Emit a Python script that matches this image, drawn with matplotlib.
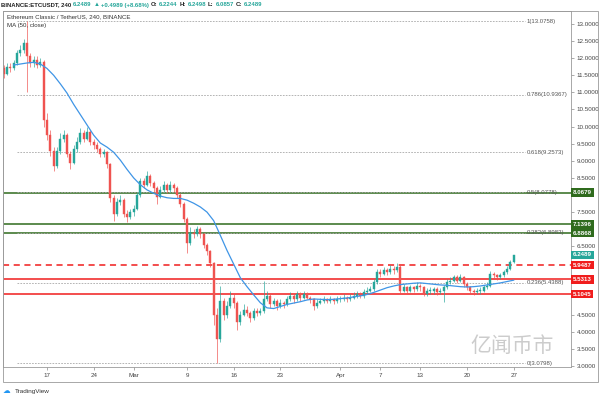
import numpy as np
import pandas as pd
import matplotlib
matplotlib.use('Agg')
import matplotlib.pyplot as plt
import matplotlib.dates as mdates
import matplotlib.transforms as mtransforms
from matplotlib.patches import Rectangle

plt.rcParams['font.family'] = ['Liberation Sans', 'DejaVu Sans', 'Noto Sans CJK SC']

# ---------------- data ----------------
candle_start = '2020-02-10 12:00'
candle_freq = '12h'

opens = [11.70, 11.55, 11.75, 11.70, 11.85, 12.15, 12.25, 12.45, 12.05, 11.85,
         11.95, 11.80, 11.90, 10.20, 9.75, 9.30, 8.85, 9.30, 9.65, 9.75,
         9.20, 8.95, 9.35, 9.55, 9.80, 9.65, 9.85, 9.55, 9.45, 9.35,
         9.20, 9.25, 8.90, 7.90, 7.45, 7.80, 7.85, 7.45, 7.35, 7.50,
         7.60, 8.00, 8.40, 8.30, 8.55, 8.35, 8.20, 7.95, 8.15, 8.30,
         8.15, 8.30, 8.20, 8.00, 7.75, 7.30, 6.60, 6.90, 6.85, 7.00,
         6.85, 6.55, 6.35, 6.00, 4.50, 3.80, 4.90, 4.50, 4.75, 5.00,
         4.85, 4.30, 4.50, 4.65, 4.55, 4.40, 4.60, 4.55, 4.60, 4.95,
         5.05, 4.80, 4.90, 4.75, 4.85, 4.80, 4.95, 5.05, 4.95, 5.10,
         5.00, 5.10, 5.00, 4.95, 4.75, 4.85, 4.90, 4.95, 4.90, 4.95,
         4.90, 4.95, 4.95, 5.00, 4.95, 5.00, 5.05, 5.10, 5.05, 5.15,
         5.20, 5.25, 5.45, 5.75, 5.70, 5.80, 5.75, 5.85, 5.80, 5.90,
         5.20, 5.30, 5.20, 5.30, 5.25, 5.35, 5.30, 5.10, 5.20, 5.20,
         5.25, 5.15, 5.20, 5.30, 5.45, 5.50, 5.60, 5.50, 5.60, 5.40,
         5.30, 5.20, 5.15, 5.20, 5.20, 5.30, 5.35, 5.70, 5.65, 5.60,
         5.65, 5.75, 5.85, 6.05]

highs = [11.80, 11.85, 11.85, 11.95, 12.25, 12.40, 12.55, 13.0758, 12.15, 12.05,
         12.05, 12.00, 11.95, 10.40, 9.90, 9.40, 9.40, 9.80, 9.90, 9.80,
         9.30, 9.45, 9.70, 9.95, 9.90, 10.00, 9.90, 9.65, 9.55, 9.40,
         9.35, 9.30, 8.95, 8.00, 7.90, 8.00, 7.90, 7.55, 7.60, 7.70,
         8.10, 8.50, 8.50, 8.70, 8.60, 8.40, 8.25, 8.25, 8.40, 8.35,
         8.40, 8.35, 8.25, 8.05, 7.80, 7.35, 7.05, 7.00, 7.10, 7.05,
         6.90, 6.60, 6.40, 6.05, 4.70, 5.35, 5.00, 4.90, 5.20, 5.10,
         4.90, 4.60, 4.80, 4.75, 4.60, 4.70, 4.70, 4.70, 5.50, 5.20,
         5.10, 5.00, 4.95, 4.95, 4.90, 5.05, 5.15, 5.10, 5.20, 5.15,
         5.20, 5.15, 5.05, 5.00, 4.95, 5.00, 5.05, 5.00, 5.05, 5.00,
         5.05, 5.05, 5.10, 5.05, 5.10, 5.15, 5.20, 5.15, 5.25, 5.30,
         5.35, 5.55, 5.85, 5.85, 5.90, 5.88, 5.95, 5.92, 6.00, 5.95,
         5.40, 5.35, 5.38, 5.35, 5.45, 5.40, 5.35, 5.28, 5.30, 5.32,
         5.30, 5.28, 5.38, 5.55, 5.60, 5.66, 5.65, 5.68, 5.62, 5.45,
         5.35, 5.25, 5.28, 5.30, 5.38, 5.45, 5.78, 5.75, 5.70, 5.72,
         5.82, 5.92, 6.10, 6.2498]

lows = [11.42, 11.50, 11.60, 11.65, 11.80, 12.05, 12.15, 11.02, 11.75, 11.75,
        11.70, 11.75, 10.00, 9.60, 9.15, 8.70, 8.80, 9.20, 9.55, 9.10,
        8.75, 8.90, 9.25, 9.50, 9.55, 9.60, 9.45, 9.35, 9.25, 9.10,
        9.10, 8.80, 7.80, 7.25, 7.40, 7.70, 7.35, 7.20, 7.30, 7.40,
        7.55, 7.95, 8.20, 8.25, 8.25, 8.10, 7.75, 7.90, 8.10, 8.05,
        8.10, 8.10, 7.90, 7.65, 7.20, 6.30, 6.55, 6.75, 6.80, 6.75,
        6.45, 6.25, 5.90, 4.20, 3.0798, 3.70, 4.35, 4.40, 4.70, 4.70,
        4.05, 4.20, 4.45, 4.45, 4.30, 4.35, 4.45, 4.50, 4.55, 4.90,
        4.70, 4.75, 4.65, 4.70, 4.70, 4.75, 4.90, 4.85, 4.90, 4.90,
        4.95, 4.95, 4.85, 4.65, 4.70, 4.80, 4.85, 4.85, 4.85, 4.82,
        4.85, 4.88, 4.90, 4.88, 4.90, 4.95, 5.00, 4.98, 5.00, 5.10,
        5.15, 5.20, 5.40, 5.60, 5.65, 5.65, 5.70, 5.70, 5.75, 5.10,
        5.15, 5.12, 5.15, 5.15, 5.20, 5.20, 5.05, 5.05, 5.10, 5.12,
        5.08, 5.10, 4.87, 5.25, 5.40, 5.45, 5.42, 5.45, 5.32, 5.22,
        5.12, 5.08, 5.10, 5.12, 5.15, 5.25, 5.30, 5.55, 5.52, 5.55,
        5.60, 5.70, 5.80, 6.00]

closes = [11.55, 11.75, 11.70, 11.85, 12.15, 12.25, 12.45, 12.05, 11.85, 11.95,
          11.80, 11.90, 10.20, 9.75, 9.30, 8.85, 9.30, 9.65, 9.75, 9.20,
          8.95, 9.35, 9.55, 9.80, 9.65, 9.85, 9.55, 9.45, 9.35, 9.20,
          9.25, 8.90, 7.90, 7.45, 7.80, 7.85, 7.45, 7.35, 7.50, 7.60,
          8.00, 8.40, 8.30, 8.55, 8.35, 8.20, 7.95, 8.15, 8.30, 8.15,
          8.30, 8.20, 8.00, 7.75, 7.30, 6.60, 6.90, 6.85, 7.00, 6.85,
          6.55, 6.35, 6.00, 4.50, 3.80, 4.90, 4.50, 4.75, 5.00, 4.85,
          4.30, 4.50, 4.65, 4.55, 4.40, 4.60, 4.55, 4.60, 4.95, 5.05,
          4.80, 4.90, 4.75, 4.85, 4.80, 4.95, 5.05, 4.95, 5.10, 5.00,
          5.10, 5.00, 4.95, 4.75, 4.85, 4.90, 4.95, 4.90, 4.95, 4.90,
          4.95, 4.95, 5.00, 4.95, 5.00, 5.05, 5.10, 5.05, 5.15, 5.20,
          5.25, 5.45, 5.75, 5.70, 5.80, 5.75, 5.85, 5.80, 5.90, 5.20,
          5.30, 5.20, 5.30, 5.25, 5.35, 5.30, 5.10, 5.20, 5.20, 5.25,
          5.15, 5.20, 5.30, 5.45, 5.50, 5.60, 5.50, 5.60, 5.40, 5.30,
          5.20, 5.15, 5.20, 5.20, 5.30, 5.35, 5.70, 5.65, 5.60, 5.65,
          5.75, 5.85, 6.05, 6.2489]

ma_start = '2020-02-12'
ma50 = [11.80, 11.83, 11.86, 11.88, 11.83, 11.70, 11.50, 11.25, 10.98, 10.65,
        10.35, 10.05, 9.75, 9.52, 9.40, 9.25, 9.02, 8.75, 8.50, 8.30,
        8.15, 8.05, 7.97, 7.92, 7.90, 7.90, 7.85, 7.76, 7.65, 7.50,
        7.25, 6.82, 6.38, 5.98, 5.58, 5.32, 5.08, 4.85, 4.70, 4.68,
        4.74, 4.80, 4.84, 4.88, 4.93, 4.96, 4.95, 4.94, 4.95, 4.97,
        4.99, 5.02, 5.05, 5.09, 5.15, 5.22, 5.29, 5.34, 5.38, 5.40,
        5.42, 5.43, 5.41, 5.39, 5.37, 5.36, 5.34, 5.32, 5.31, 5.32,
        5.34, 5.37, 5.40, 5.43, 5.47, 5.51]

green_levels = [8.0679, 7.1396, 6.8868]
red_dashed_level = 5.9487
red_levels = [5.5313, 5.1045]
last_price = 6.2489

fib_ratios = [1, 0.786, 0.618, 0.5, 0.382, 0.236, 0]
fib_values = [13.0758, 10.9367, 9.2573, 8.0778, 6.8983, 5.4388, 3.0798]

tick_dates = ['2020-02-17', '2020-02-24', '2020-03-01', '2020-03-09', '2020-03-16',
              '2020-03-23', '2020-04-01', '2020-04-07', '2020-04-13', '2020-04-20',
              '2020-04-27']
tick_labels = ['17', '24', 'Mar', '9', '16', '23', 'Apr', '7', '13', '20', '27']
price_ticks = [13.0, 12.5, 12.0, 11.5, 11.0, 10.5, 10.0, 9.5, 9.0, 8.5, 7.5, 6.5,
               4.5, 4.0, 3.5, 3.0]

header_symbol = 'BINANCE:ETCUSDT, 240'
hdr_change = '+0.4989 (+8.68%)'
hdr_o, hdr_h, hdr_l, hdr_c = 6.2244, 6.2498, 6.0857, 6.2489
legend_title = 'Ethereum Classic / TetherUS, 240, BINANCE'
legend_ma = 'MA (50, close)'

# ---------------- figure ----------------
W, H = 600, 398
fig = plt.figure(figsize=(6.0, 3.98), dpi=100)
fig.patch.set_facecolor('white')
ax = fig.add_axes([3 / W, 1 - 367 / H, 568 / W, 356 / H])

UP = '#26a69a'
DOWN = '#ef5350'
TEAL = '#26a69a'
GREEN = '#2f6b1d'
RED = '#f01d1d'

x = mdates.date2num(pd.date_range(candle_start, periods=len(closes), freq=candle_freq))
o = np.array(opens); h = np.array(highs); l = np.array(lows); c = np.array(closes)
up = c >= o
cols = np.where(up, UP, DOWN)

# levels
for v in green_levels:
    ax.axhline(v, color=GREEN, lw=1.1, zorder=1)
ax.axhline(red_dashed_level, color=RED, lw=1.1, ls=(0, (4, 3)), zorder=1)
for v in red_levels:
    ax.axhline(v, color=RED, lw=1.1, zorder=1)

# fib
fx0, fx1 = (17 - 3) / 568, (525 - 3) / 568
btr = mtransforms.blended_transform_factory(ax.transAxes, ax.transData)
for r, v in zip(fib_ratios, fib_values):
    ax.axhline(v, xmin=fx0, xmax=fx1, color='#a8a8a8', lw=0.6, ls=(0, (2, 1.5)), zorder=1)
    ax.text(fx1 + 0.003, v, f'{r:g}({v:.4f})', transform=btr, fontsize=4.3,
            color='#555555', va='center', ha='left', zorder=4)

# candles
ax.vlines(x, l, h, colors=cols, lw=0.55, alpha=0.85, zorder=2)
body_h = np.maximum(np.abs(c - o), 0.02)
ax.bar(x, body_h, bottom=np.minimum(o, c), width=0.26, color=cols, edgecolor=cols,
       lw=0.3, zorder=3)

# MA
xm = mdates.date2num(pd.date_range(ma_start, periods=len(ma50), freq='1D'))
ax.plot(xm, ma50, color='#3f95e6', lw=0.9, zorder=4)

base = mdates.date2num(pd.Timestamp('2020-02-17'))
ax.set_xlim(base - 6.6, base + 78.6)
ax.set_ylim(2.971, 13.380)

ax.set_xticks(mdates.date2num(pd.to_datetime(tick_dates)))
ax.set_xticklabels(tick_labels)
ax.yaxis.tick_right()
ax.set_yticks(price_ticks)
ax.set_yticklabels([f'{t:.4f}' for t in price_ticks])
ax.tick_params(axis='both', length=2, width=0.5, color='#8a8a8a', labelsize=4.5,
               labelcolor='#444444', pad=2)
for s in ax.spines.values():
    s.set_color('#9a9a9a')
    s.set_linewidth(0.6)

# price label boxes
def price_box(v, col):
    ax.text(1.0035, v, f'{v:.4f}', transform=btr, fontsize=4.4, color='white',
            fontweight='bold', va='center', ha='left', clip_on=False, zorder=6,
            bbox=dict(boxstyle='square,pad=0.3', fc=col, ec='none'))

for v in green_levels:
    price_box(v, GREEN)
price_box(last_price, TEAL)
price_box(red_dashed_level, RED)
for v in red_levels:
    price_box(v, RED)

# outer frame
fig.add_artist(Rectangle((3 / W, 1 - 382 / H), 595 / W, 371 / H, transform=fig.transFigure,
                         fill=False, ec='#9a9a9a', lw=0.6))

# header / legend text
fig.canvas.draw()
renderer = fig.canvas.get_renderer()

def chain(x_px, y_px, pieces, size, weight='normal', gap=2.0):
    xx = x_px
    for s, col in pieces:
        t = fig.text(xx / W, 1 - y_px / H, s, color=col, fontsize=size, va='center',
                     ha='left', fontweight=weight)
        bb = t.get_window_extent(renderer)
        xx += bb.width + gap

DARK = '#222222'
chain(1, 5, [(header_symbol, DARK), (f'{hdr_c:.4f}', TEAL), ('▲', TEAL), (hdr_change, TEAL),
             ('O:', DARK), (f'{hdr_o:.4f}', TEAL), ('H:', DARK), (f'{hdr_h:.4f}', TEAL),
             ('L:', DARK), (f'{hdr_l:.4f}', TEAL), ('C:', DARK), (f'{hdr_c:.4f}', TEAL)],
      4.3, weight='bold', gap=1.8)
fig.text(7 / W, 1 - 17 / H, legend_title, fontsize=4.4, color='#333333', va='center', ha='left')
fig.text(7 / W, 1 - 25 / H, legend_ma, fontsize=4.4, color='#333333', va='center', ha='left')

# TradingView logo
fig.text(3 / W, 1 - 390.5 / H, '☁', fontsize=5.5, color='#2196f3', va='center', ha='left',
         family='DejaVu Sans')
fig.text(15 / W, 1 - 391 / H, 'TradingView', fontsize=4.6, color='#333333', va='center', ha='left')

# watermark
fig.text(470 / W, 1 - 346 / H, '亿闻币市', fontsize=15, color='#9a9a9a', alpha=0.5,
         va='center', ha='left', family=['Noto Sans CJK SC', 'DejaVu Sans'])

fig.savefig('out.png', dpi=100)
